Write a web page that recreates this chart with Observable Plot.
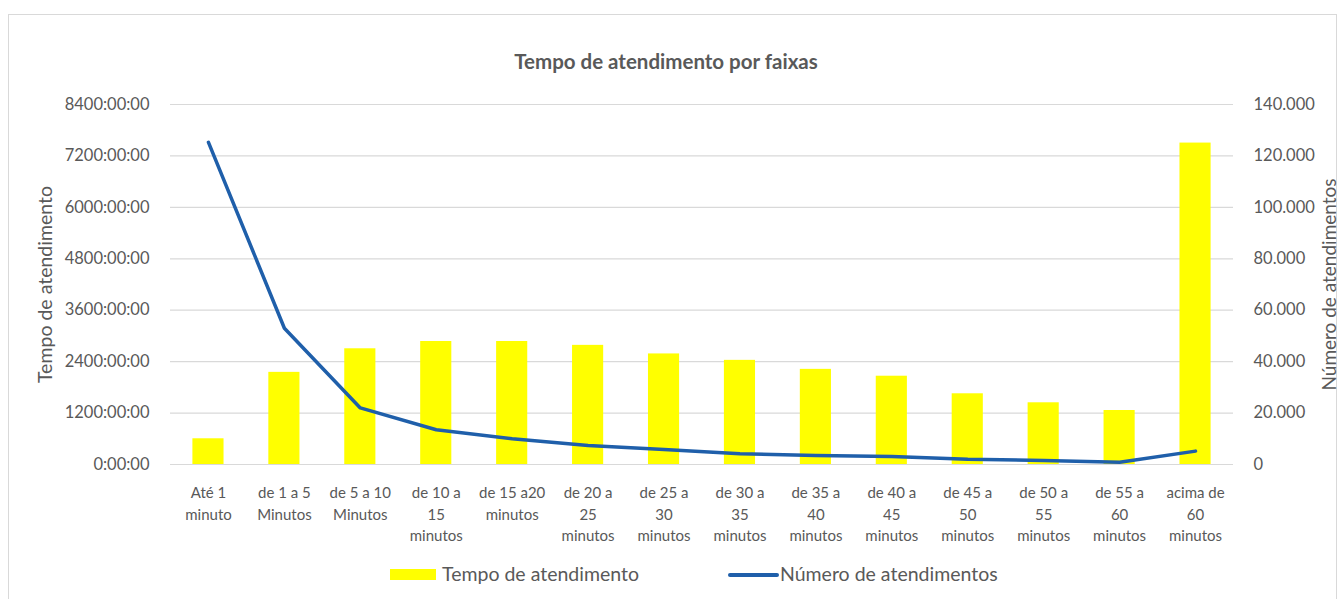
<!DOCTYPE html>
<html><head><meta charset="utf-8">
<script src="https://cdn.jsdelivr.net/npm/d3@7"></script>
<script src="https://cdn.jsdelivr.net/npm/@observablehq/plot@0.6"></script>
<style>
body{margin:0;background:#fff;font-family:Lato,"Open Sans",sans-serif;width:1344px;height:599px;overflow:hidden;position:relative;}
#frame{position:absolute;left:8px;top:14px;width:1329px;height:600px;border:1px solid #d9d9d9;box-sizing:border-box;}
#chart{position:absolute;left:0;top:0;}
#title{position:absolute;left:0;width:1332px;top:49px;text-align:center;font-weight:bold;font-size:20.5px;color:#595959;}
.lg{position:absolute;font-size:19.5px;color:#595959;line-height:22px;top:563px;}
.sw{position:absolute;}
</style></head><body>
<div id="frame"></div>
<div id="chart"></div>
<div id="title">Tempo de atendimento por faixas</div>
<div class="sw" style="left:390px;top:569px;width:46px;height:11px;background:#FFFF00"></div>
<div class="lg" style="left:442px">Tempo de atendimento</div>
<div class="sw" style="left:728px;top:573px;width:51px;height:4px;background:#1F5FAA;border-radius:2px"></div>
<div class="lg" style="left:780px">Número de atendimentos</div>
<script>
const categories = ["Até 1 minuto","de 1 a 5 Minutos","de 5 a 10 Minutos","de 10 a 15 minutos","de 15 a20 minutos","de 20 a 25 minutos","de 25 a 30 minutos","de 30 a 35 minutos","de 35 a 40 minutos","de 40 a 45 minutos","de 45 a 50 minutos","de 50 a 55 minutos","de 55 a 60 minutos","acima de 60 minutos"];
const tickLabels = ["Até 1\nminuto","de 1 a 5\nMinutos","de 5 a 10\nMinutos","de 10 a\n15\nminutos","de 15 a20\nminutos","de 20 a\n25\nminutos","de 25 a\n30\nminutos","de 30 a\n35\nminutos","de 35 a\n40\nminutos","de 40 a\n45\nminutos","de 45 a\n50\nminutos","de 50 a\n55\nminutos","de 55 a\n60\nminutos","acima de\n60\nminutos"];
// Tempo de atendimento (horas)
const tempoHoras = [600, 2150, 2700, 2870, 2870, 2780, 2580, 2430, 2220, 2060, 1650, 1440, 1260, 7500];
// Número de atendimentos
const numeroAtendimentos = [125300, 53000, 22000, 13500, 10000, 7400, 5800, 4200, 3500, 3100, 2000, 1600, 900, 5200];
const leftTicks = [0, 1200, 2400, 3600, 4800, 6000, 7200, 8400];
const rightTicks = [0, 20000, 40000, 60000, 80000, 100000, 120000, 140000];
const leftTitle = "Tempo de atendimento";
const rightTitle = "Número de atendimentos";

const ratio = 8400 / 140000;
const loc = d3.formatLocale({decimal: ",", thousands: ".", grouping: [3], currency: ["", ""]});
const fmt = loc.format(",d");
const data = categories.map((c, i) => ({cat: c, tempo: tempoHoras[i], numero: numeroAtendimentos[i]}));
const textColor = "#595959";

const chart = Plot.plot({
  width: 1344, height: 560,
  marginLeft: 170, marginRight: 111, marginTop: 104, marginBottom: 96,
  style: {fontFamily: "Lato, 'Open Sans', sans-serif", fontSize: "15px", color: textColor, background: "transparent", overflow: "visible"},
  x: {domain: categories, paddingInner: 0.59, paddingOuter: 0.295, round: false, label: null},
  y: {domain: [0, 8400], label: null},
  marks: [
    Plot.gridY(leftTicks, {stroke: "#d9d9d9", strokeOpacity: 1, strokeWidth: 1.2}),
    Plot.barY(data, {x: "cat", y: "tempo", fill: "#FFFF00"}),
    Plot.lineY(data, {x: "cat", y: d => d.numero * ratio, stroke: "#1F5FAA", strokeWidth: 3.5, strokeLinejoin: "round", strokeLinecap: "round"}),
    Plot.axisY(leftTicks, {anchor: "left", tickSize: 0, tickPadding: 21, tickFormat: h => `${h}:00:00`, fontSize: 16.5, fill: textColor, label: null}),
    Plot.axisY(rightTicks.map(v => v * ratio), {anchor: "right", tickSize: 0, tickPadding: 20, tickFormat: v => fmt(Math.round(v / ratio)), fontSize: 16.5, fill: textColor, label: null}),
    Plot.axisX({tickSize: 0, tickPadding: 18, tickFormat: d => tickLabels[categories.indexOf(d)], lineHeight: 1.45, fontSize: 15, fill: textColor, label: null}),
    Plot.text([leftTitle], {frameAnchor: "left", dx: -125, rotate: -90, textAnchor: "middle", fontSize: 19.5, fill: textColor, text: d => d}),
    Plot.text([rightTitle], {frameAnchor: "right", dx: 96, rotate: -90, textAnchor: "middle", fontSize: 19, fill: textColor, text: d => d})
  ]
});
document.getElementById("chart").appendChild(chart);
</script>
</body></html>
